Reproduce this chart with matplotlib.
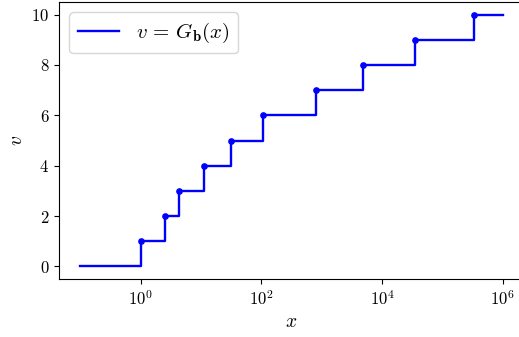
import matplotlib
matplotlib.use("Agg")
import matplotlib.pyplot as plt
from matplotlib.ticker import NullLocator

plt.rcParams['mathtext.fontset'] = 'cm'
plt.rcParams['font.family'] = 'serif'
plt.rcParams['font.serif'] = ['cmr10', 'DejaVu Serif']
plt.rcParams['axes.formatter.use_mathtext'] = True

# step start positions and levels
x_start = 0.1
x_end = 1e6
jump_x = [1.0, 2.5, 4.25, 11.1, 30.7, 105, 800, 4900, 34700, 335000]
levels = [1, 2, 3, 4, 5, 6, 7, 8, 9, 10]

xs = [x_start] + jump_x + [x_end]
vs = [0] + levels + [levels[-1]]

fig = plt.figure(figsize=(5.19, 3.37), dpi=100)
ax = fig.add_axes([59/519, 1 - 279/337, (524 - 59)/519, (279 - 2)/337])

ax.step(xs, vs, where='post', color='blue', lw=1.7, label=r'$v\,=\,G_{\mathbf{b}}(x)$')
ax.plot(jump_x, levels, 'o', color='blue', ms=3.8)

ax.set_xscale('log')
ax.set_xlim(10**-1.355, 10**6.35)
ax.set_ylim(-0.5, 10.5)
ax.set_xticks([1, 1e2, 1e4, 1e6])
ax.xaxis.set_minor_locator(NullLocator())
ax.set_yticks([0, 2, 4, 6, 8, 10])
ax.tick_params(labelsize=12)
ax.set_xlabel(r'$x$', fontsize=14)
ax.set_ylabel(r'$v$', fontsize=14)
ax.legend(loc='upper left', fontsize=15)

fig.savefig('out.png', dpi=100)
